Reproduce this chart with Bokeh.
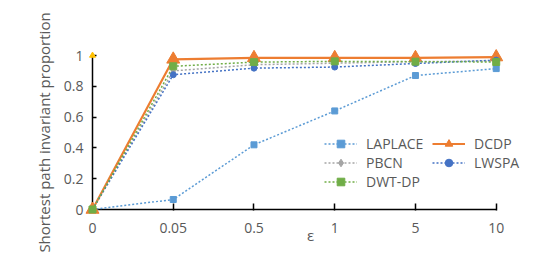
from bokeh.plotting import figure
from bokeh.models import (Range1d, FixedTicker, PrintfTickFormatter, Legend,
                          LegendItem)
from bokeh.embed import file_html
from bokeh.resources import INLINE

# ---------------- data ----------------
eps_labels = ["0", "0.05", "0.5", "1", "5", "10"]
laplace = [0.0, 0.065, 0.42, 0.64, 0.87, 0.915]
dcdp = [0.0, 0.975, 0.985, 0.985, 0.985, 0.99]
pbcn = [0.0, 0.90, 0.94, 0.95, 0.96, 0.965]
lwspa = [0.0, 0.875, 0.918, 0.925, 0.948, 0.97]
dwtdp = [0.0, 0.93, 0.957, 0.962, 0.96, 0.958]
stray_x = [0]
stray_y = [1.0]
y_ticks = [0, 0.2, 0.4, 0.6, 0.8, 1.0]

xs = list(range(len(eps_labels)))
last = len(eps_labels) - 1

FONT = "Open Sans"
GRAY = "#595959"

p = figure(width=540, height=264, output_backend="svg", toolbar_location=None,
           x_range=Range1d(0, last + 0.4), y_range=Range1d(0, 1),
           min_border_left=92, min_border_right=12, min_border_top=55,
           min_border_bottom=55)
p.outline_line_color = None
p.grid.visible = False
p.background_fill_color = "white"
p.border_fill_color = "white"

# axes
xa = p.xaxis[0]
xa.bounds = (0, last)
xa.ticker = FixedTicker(ticks=xs)
xa.major_label_overrides = {i: lab for i, lab in enumerate(eps_labels)}
xa.major_tick_in = 6
xa.major_tick_out = 1
xa.minor_tick_line_color = None
xa.axis_line_color = "black"
xa.axis_line_width = 1.5
xa.major_tick_line_color = "black"
xa.major_tick_line_width = 1.5
xa.major_label_text_font = FONT
xa.major_label_text_font_size = "14px"
xa.major_label_text_color = GRAY
xa.major_label_standoff = 12
xa.axis_label = "ε"
xa.axis_label_text_font = FONT
xa.axis_label_text_font_size = "15px"
xa.axis_label_text_font_style = "normal"
xa.axis_label_text_color = GRAY
xa.axis_label_standoff = -11

ya = p.yaxis[0]
ya.ticker = FixedTicker(ticks=y_ticks)
ya.formatter = PrintfTickFormatter(format="%g")
ya.major_tick_in = 4
ya.major_tick_out = 0
ya.minor_tick_line_color = None
ya.axis_line_color = "black"
ya.axis_line_width = 1.5
ya.major_tick_line_color = "black"
ya.major_tick_line_width = 1.5
ya.major_label_text_font = FONT
ya.major_label_text_font_size = "14px"
ya.major_label_text_color = GRAY
ya.major_label_standoff = 9
ya.axis_label = "Shortest path invariant proportion"
ya.axis_label_text_font = FONT
ya.axis_label_text_font_size = "15px"
ya.axis_label_text_font_style = "normal"
ya.axis_label_text_color = GRAY
ya.axis_label_standoff = 7

DOT = "2 2"
items = {}

def series(name, ys, color, marker, msize, dash, lw):
    r1 = p.line(xs, ys, line_color=color, line_width=lw, line_dash=dash)
    r2 = p.scatter(xs, ys, marker=marker, size=msize, fill_color=color,
                   line_color=color)
    r1.level = "overlay"
    r2.level = "overlay"
    items[name] = LegendItem(label=name, renderers=[r1, r2])

series("LAPLACE", laplace, "#5B9BD5", "square", 6, DOT, 1.5)
series("DCDP", dcdp, "#ED7D31", "triangle", 13, "solid", 2.2)
series("PBCN", pbcn, "#A5A5A5", "diamond", 7, DOT, 1.5)
series("LWSPA", lwspa, "#4472C4", "circle", 6, DOT, 1.5)
series("DWT-DP", dwtdp, "#70AD47", "square", 7, DOT, 1.5)

rs = p.scatter(stray_x, stray_y, marker="triangle", size=6,
               fill_color="#FFC000", line_color="#FFC000")
rs.level = "overlay"

legend = Legend(items=[items["LAPLACE"], items["PBCN"], items["DWT-DP"],
                       items["DCDP"], items["LWSPA"]],
                orientation="vertical", nrows=3,
                location=(232, 18), glyph_width=33, glyph_height=19,
                label_height=19, label_width=66, label_standoff=9,
                spacing=0, padding=0, margin=0, border_line_color=None,
                background_fill_alpha=0,
                label_text_font=FONT, label_text_font_size="14px",
                label_text_color=GRAY)
p.add_layout(legend)

open("out.html", "w").write(file_html(p, INLINE))
